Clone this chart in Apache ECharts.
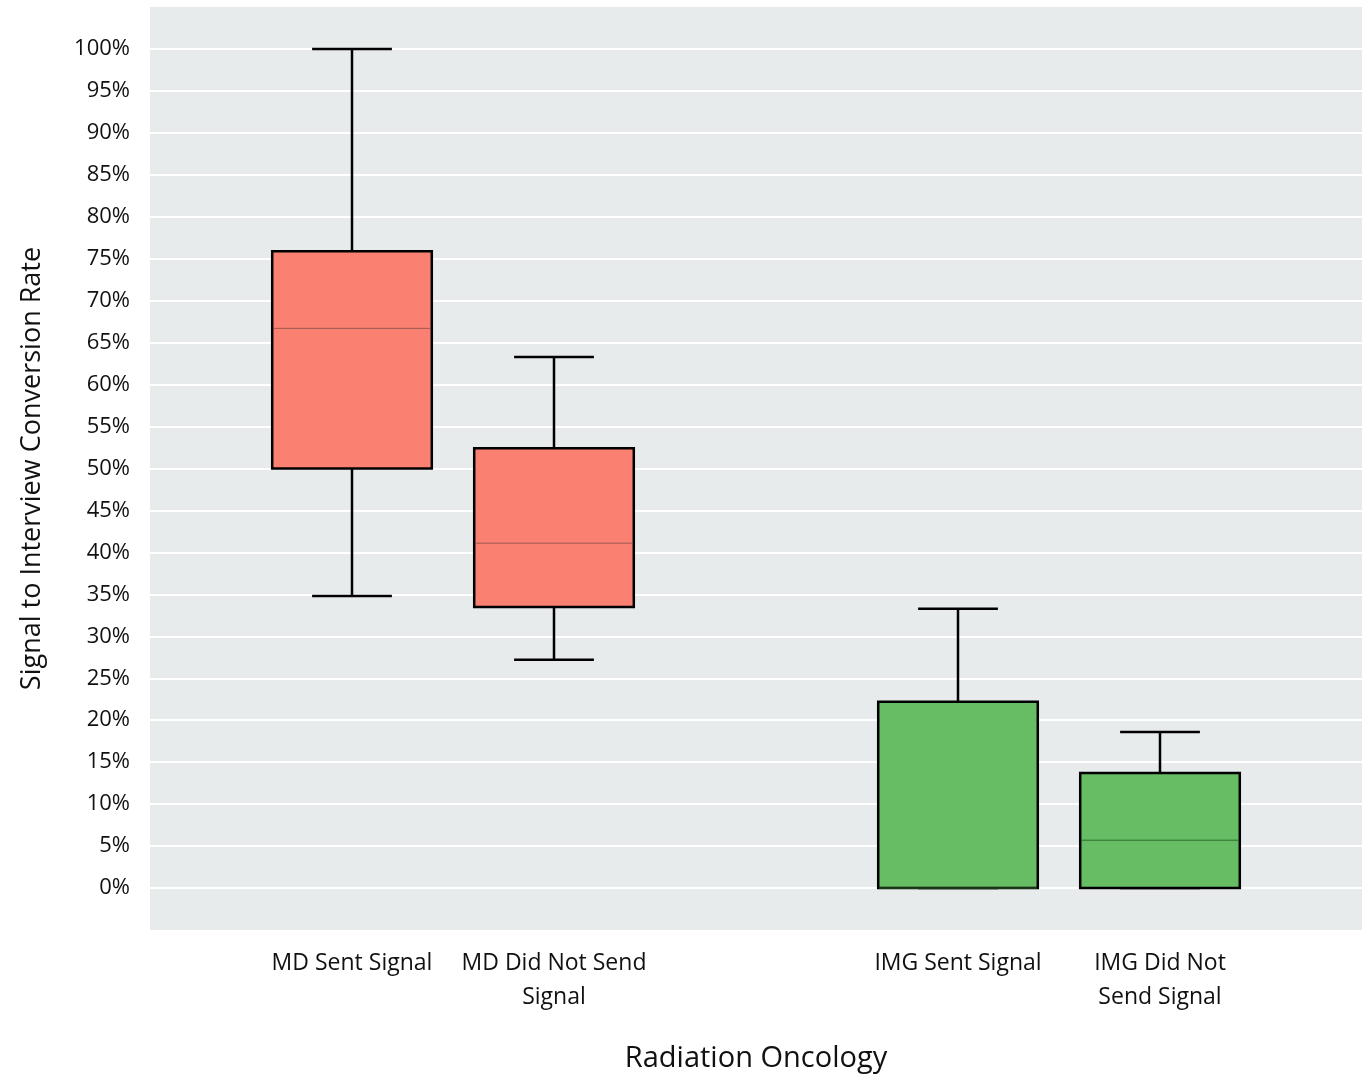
<!DOCTYPE html>
<html><head><meta charset="utf-8">
<script src="https://cdn.jsdelivr.net/npm/echarts@6/dist/echarts.min.js"></script>
<style>html,body{margin:0;padding:0;background:#fff}#c{width:1370px;height:1078px}</style>
</head><body><div id="c"></div>
<script>
const categories = ['', 'MD Sent Signal', 'MD Did Not Send\nSignal', '', 'IMG Sent Signal', 'IMG Did Not\nSend Signal', ''];
const boxIndex = [1, 2, 4, 5];
const mins    = [34.8, 27.2, 0, 0];
const q1s     = [50.0, 33.5, 0, 0];
const medians = [66.7, 41.1, 0, 5.7];
const q3s     = [75.9, 52.4, 22.2, 13.7];
const maxs    = [100, 63.3, 33.3, 18.6];
const colors  = ['#FA8072', '#FA8072', '#66BD63', '#66BD63'];
const darkers = ['#9c5a52', '#9c5a52', '#2f6b2c', '#2f6b2c'];

const data = boxIndex.map((x, i) => [x, mins[i], q1s[i], medians[i], q3s[i], maxs[i], i]);

const chart = echarts.init(document.getElementById('c'));
chart.setOption({
  animation: false,
  grid: {left: 150, right: 8, top: 7, bottom: 147, show: true, backgroundColor: '#E8EBEC', borderWidth: 0},
  xAxis: {
    type: 'category', data: categories, boundaryGap: false,
    axisLine: {show: false}, axisTick: {show: false}, splitLine: {show: false},
    axisLabel: {fontFamily: 'Open Sans', fontSize: 23, color: '#111', margin: 16, lineHeight: 34, interval: 0},
    name: 'Radiation Oncology', nameLocation: 'middle', nameGap: 114,
    nameTextStyle: {fontFamily: 'Open Sans', fontSize: 29, color: '#111'}
  },
  yAxis: {
    type: 'value', min: -5, max: 105, interval: 5,
    axisLine: {show: false}, axisTick: {show: false},
    splitLine: {show: true, showMinLine: false, showMaxLine: false, lineStyle: {color: '#ffffff', width: 2}},
    axisLabel: {fontFamily: 'Open Sans', fontSize: 22, color: '#111', margin: 20,
      formatter: v => (v < 0 || v > 100) ? '' : v + '%'},
    name: 'Signal to Interview Conversion Rate', nameLocation: 'middle', nameGap: 104,
    nameTextStyle: {fontFamily: 'Open Sans', fontSize: 27, color: '#111'}
  },
  series: [{
    type: 'custom',
    data: data,
    renderItem: function (params, api) {
      const x = api.value(0);
      const i = api.value(6);
      const band = api.size([1, 0])[0];
      const bw = band * 0.79;
      const ww = bw / 2;
      const pMin = api.coord([x, api.value(1)]);
      const pQ1 = api.coord([x, api.value(2)]);
      const pMed = api.coord([x, api.value(3)]);
      const pQ3 = api.coord([x, api.value(4)]);
      const pMax = api.coord([x, api.value(5)]);
      const cx = pMin[0];
      const lineStyle = {stroke: '#000', lineWidth: 2.5, fill: null};
      return {
        type: 'group',
        children: [
          {type: 'line', shape: {x1: cx, y1: pQ3[1], x2: cx, y2: pMax[1]}, style: lineStyle},
          {type: 'line', shape: {x1: cx - ww / 2, y1: pMax[1], x2: cx + ww / 2, y2: pMax[1]}, style: lineStyle},
          {type: 'line', shape: {x1: cx, y1: pQ1[1], x2: cx, y2: pMin[1]}, style: lineStyle},
          {type: 'line', shape: {x1: cx - ww / 2, y1: pMin[1], x2: cx + ww / 2, y2: pMin[1]}, style: lineStyle},
          {type: 'rect', shape: {x: cx - bw / 2, y: pQ3[1], width: bw, height: pQ1[1] - pQ3[1]},
            style: {fill: colors[i], stroke: '#000', lineWidth: 2.5}},
          {type: 'line', shape: {x1: cx - bw / 2 + 1, y1: pMed[1], x2: cx + bw / 2 - 1, y2: pMed[1]},
            style: {stroke: darkers[i], lineWidth: 1, fill: null}}
        ]
      };
    }
  }]
});
</script></body></html>
